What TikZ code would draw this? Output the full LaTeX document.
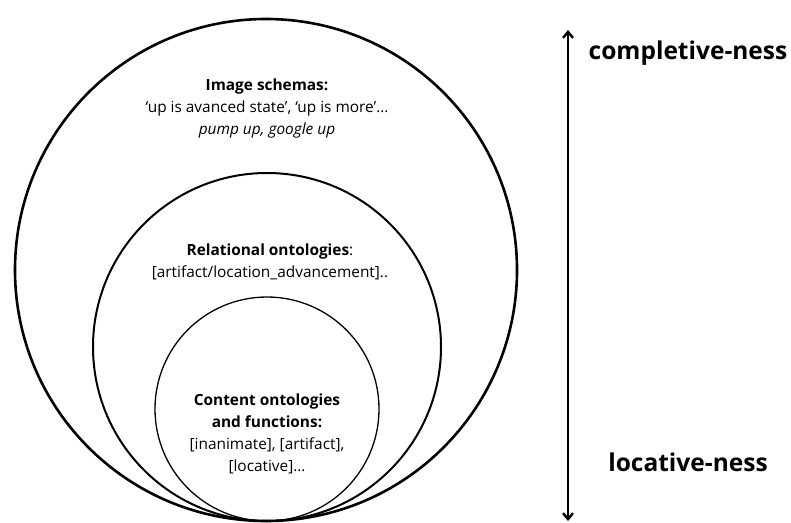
\documentclass[tikz,border=0pt]{standalone}
\usepackage{fontspec}
\setmainfont{Open Sans}
\usetikzlibrary{positioning,arrows.meta}

\begin{document}
\begin{tikzpicture}[x=1pt, y=-1pt,
    ring/.style = {draw, line width=#1},
    txt/.style = {align=center, inner sep=0pt, font=\fontsize{15.4}{22}\selectfont},
    pole/.style = {inner sep=0pt, font=\bfseries\fontsize{24.5}{26}\selectfont}]
    \useasboundingbox (0,0) rectangle (791,522);
    % nested rings, all touching at the bottom
    \draw[ring=2.6pt] (266,270) circle (251pt);
    \draw[ring=2pt] (267,347) circle (174pt);
    \draw[ring=1.3pt] (267,409) circle (112pt);
    \node[txt] (1) at (267,108) {\textbf{Image schemas:}\\
        ‘up is avanced state’, ‘up is more’…\\ \textit{pump up, google up}};
    \node[txt] (2) at (270,262) {\textbf{Relational ontologies}:\\
        {[artifact/location\_advancement]..}};
    \node[txt] (3) at (267,434) {\textbf{Content ontologies}\\ \textbf{and functions:}\\
        {[inanimate], [artifact],}\\ {[locative]…}};
    \coordinate (up) at (568,30);
    \coordinate (down) at (568,521);
    \draw[{Straight Barb[length=6pt,width=10pt]}-{Straight Barb[length=6pt,width=10pt]}, line width=2.4pt] (up) -- (down);
    \node[pole] (4) at (688,53) {completive-ness};
    \node[pole] (5) at (688,462) {locative-ness};
\end{tikzpicture}
\end{document}
